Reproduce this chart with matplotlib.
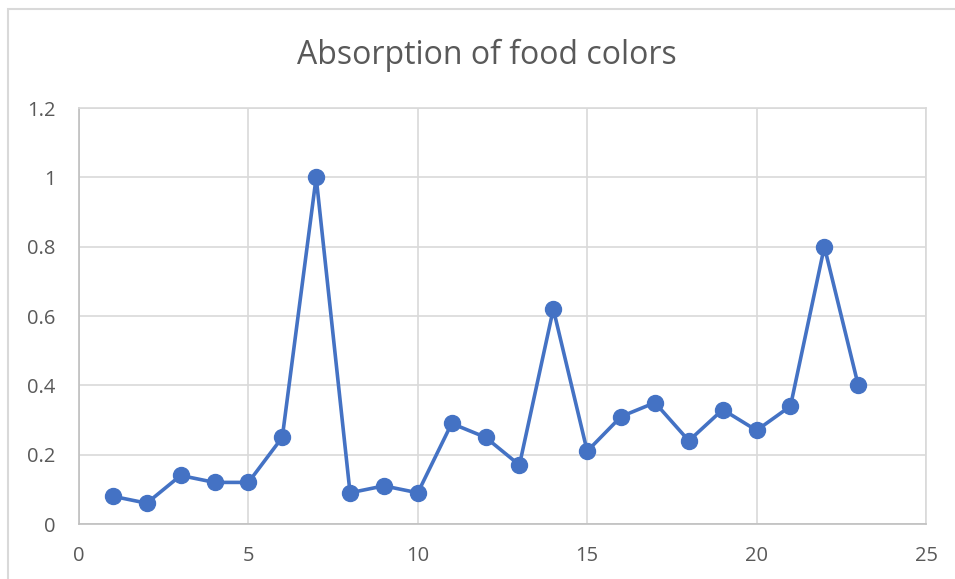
import matplotlib
matplotlib.use("Agg")
import matplotlib.pyplot as plt
from matplotlib.patches import Rectangle

# Absorption readings per sample
sample = [1, 2, 3, 4, 5, 6, 7, 8, 9, 10, 11, 12, 13, 14, 15, 16, 17, 18, 19, 20, 21, 22, 23]
absorption = [0.08, 0.06, 0.14, 0.12, 0.12, 0.25, 1.0, 0.09, 0.11, 0.09, 0.29, 0.25,
              0.17, 0.62, 0.21, 0.31, 0.35, 0.24, 0.33, 0.27, 0.34, 0.80, 0.40]
x_ticks = [0, 5, 10, 15, 20, 25]
y_ticks = [0, 0.2, 0.4, 0.6, 0.8, 1.0, 1.2]
y_labels = ["0", "0.2", "0.4", "0.6", "0.8", "1", "1.2"]

plt.rcParams["font.family"] = ["Open Sans", "DejaVu Sans"]

W, H = 955, 579
fig = plt.figure(figsize=(W / 100, H / 100), dpi=100)
ax = fig.add_axes([79 / W, 1 - 524 / H, (926 - 79) / W, (524 - 108) / H])

# chart frame, runs off the right and bottom edge
fig.patches.append(Rectangle((8 / W, -0.1), 1.2, 1 - 9 / H + 0.1,
                             transform=fig.transFigure, fill=False,
                             edgecolor="#d9d9d9", linewidth=1.5, zorder=0))

ax.plot(sample, absorption, color="#4472C4", linewidth=2.6, marker="o",
        markersize=11.5, zorder=3, clip_on=False)

ax.set_xlim(0, 25)
ax.set_ylim(0, 1.2)
ax.set_xticks(x_ticks)
ax.set_yticks(y_ticks)
ax.set_yticklabels(y_labels)
ax.grid(True, color="#d9d9d9", linewidth=1.2)
ax.set_axisbelow(True)
for s in ax.spines.values():
    s.set_color("#d9d9d9")
    s.set_linewidth(1.2)
ax.spines["bottom"].set_color("#bfbfbf")
ax.spines["left"].set_color("#bfbfbf")
ax.tick_params(length=0, labelsize=14.5, colors="#595959", pad=16)
ax.tick_params(axis="y", pad=17)

fig.text(487 / W, 1 - 64 / H, "Absorption of food colors", ha="center", va="baseline",
         fontsize=23, color="#595959")

fig.savefig("out.png", dpi=100, facecolor="white")
